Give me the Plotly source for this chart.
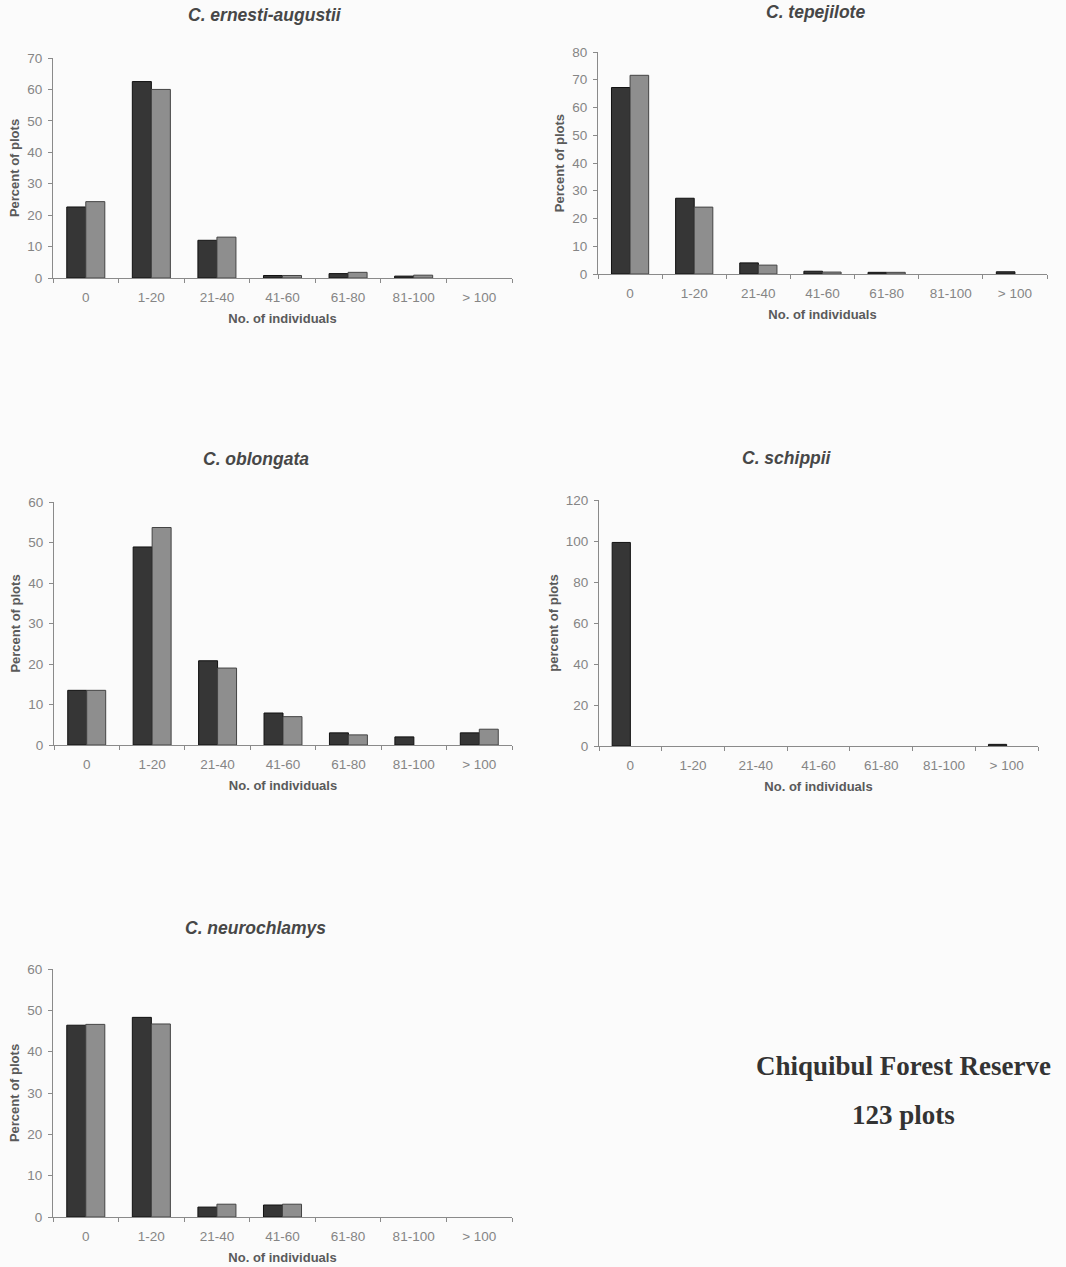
import plotly.graph_objects as go

W, H = 1066, 1267

categories = ["0", "1-20", "21-40", "41-60", "61-80", "81-100", "> 100"]

titles = ["C. ernesti-augustii", "C. tepejilote", "C. oblongata", "C. schippii", "C. neurochlamys"]
ylabels = ["Percent of plots", "Percent of plots", "Percent of plots", "percent of plots", "Percent of plots"]

ernesti_dark = [22.6, 62.5, 12.0, 0.8, 1.4, 0.6, 0]
ernesti_light = [24.3, 60.0, 13.0, 0.8, 1.8, 0.9, 0]
tepejilote_dark = [67.2, 27.3, 4.0, 1.0, 0.6, 0, 0.8]
tepejilote_light = [71.6, 24.1, 3.2, 0.7, 0.6, 0, 0]
oblongata_dark = [13.5, 48.9, 20.8, 7.9, 3.0, 2.0, 3.0]
oblongata_light = [13.5, 53.7, 19.0, 7.0, 2.5, 0, 3.9]
schippii_dark = [99.3, 0, 0, 0, 0, 0, 0.8]
schippii_light = [0, 0, 0, 0, 0, 0, 0]
neuro_dark = [46.4, 48.3, 2.4, 2.9, 0, 0, 0]
neuro_light = [46.6, 46.7, 3.1, 3.1, 0, 0, 0]

yranges = [70, 80, 60, 120, 60]
ydticks = [10, 10, 10, 20, 10]

series = [
    (ernesti_dark, ernesti_light),
    (tepejilote_dark, tepejilote_light),
    (oblongata_dark, oblongata_light),
    (schippii_dark, schippii_light),
    (neuro_dark, neuro_light),
]

# pixel boxes: (x_left, x_right, y_bottom, y_top)
boxes = [
    (53, 512, 278, 58),
    (598, 1047, 274, 52),
    (54, 512, 745, 502),
    (599, 1038, 746, 500),
    (53, 512, 1217, 969),
]
title_pos = [(265, 15), (815, 12), (256, 459), (787, 458), (255, 928)]

DARK = "#363636"
LIGHT = "#8e8e8e"
FONT = "Liberation Sans, Arial, sans-serif"


def nz(vals):
    return [v if v else None for v in vals]


fig = go.Figure()
layout = dict(
    width=W, height=H,
    margin=dict(l=0, r=0, t=0, b=0, autoexpand=False),
    paper_bgcolor="#fbfbfb",
    plot_bgcolor="rgba(0,0,0,0)",
    barmode="group",
    bargap=0.42,
    bargroupgap=0.0,
    showlegend=False,
    font=dict(family=FONT, size=13, color="#858585"),
)
annotations = []

for i, ((d, l), (xl, xr, yb, yt)) in enumerate(zip(series, boxes)):
    n = "" if i == 0 else str(i + 1)
    xa, ya = "x" + n, "y" + n
    fig.add_trace(go.Bar(x=categories, y=nz(d), xaxis=xa, yaxis=ya,
                         marker=dict(color=DARK, line=dict(color="#111111", width=1))))
    fig.add_trace(go.Bar(x=categories, y=nz(l), xaxis=xa, yaxis=ya,
                         marker=dict(color=LIGHT, line=dict(color="#444444", width=1))))
    layout["xaxis" + n] = dict(
        domain=[xl / W, xr / W], anchor=ya, type="category", automargin=False,
        showline=True, linecolor="#8a8a8a", linewidth=1,
        ticks="outside", ticklen=4, tickcolor="#8a8a8a", tickson="boundaries",
        showgrid=False, zeroline=False, ticklabelstandoff=7,
        tickfont=dict(size=13.5, color="#858585"),
        title=dict(text="<b>No. of individuals</b>", standoff=9,
                   font=dict(size=13, color="#5a5a5a")),
    )
    layout["yaxis" + n] = dict(
        domain=[1 - yb / H, 1 - yt / H], anchor=xa, automargin=False,
        range=[0, yranges[i]], dtick=ydticks[i],
        showline=True, linecolor="#8a8a8a", linewidth=1,
        ticks="outside", ticklen=4, tickcolor="#8a8a8a",
        showgrid=False, zeroline=False, ticklabelstandoff=3,
        tickfont=dict(size=13.5, color="#858585"),
        title=dict(text="<b>" + ylabels[i] + "</b>", standoff=4,
                   font=dict(size=13, color="#5a5a5a")),
    )
    tx, ty = title_pos[i]
    annotations.append(dict(
        x=tx / W, y=1 - ty / H, xref="paper", yref="paper",
        text="<b><i>" + titles[i] + "</i></b>", showarrow=False,
        xanchor="center", yanchor="middle",
        font=dict(family=FONT, size=17.5, color="#474747"),
    ))

SERIF = "Liberation Serif, Times New Roman, serif"
annotations.append(dict(x=903 / W, y=1 - 1066 / H, xref="paper", yref="paper",
                        text="<b>Chiquibul Forest Reserve</b>", showarrow=False,
                        xanchor="center", yanchor="middle",
                        font=dict(family=SERIF, size=27, color="#333333")))
annotations.append(dict(x=903 / W, y=1 - 1115 / H, xref="paper", yref="paper",
                        text="<b>123 plots</b>", showarrow=False,
                        xanchor="center", yanchor="middle",
                        font=dict(family=SERIF, size=27, color="#333333")))

layout["annotations"] = annotations
fig.update_layout(**layout)
fig.write_html("out.html", config={"displayModeBar": False},
               post_script="document.body.style.margin='0px';document.body.style.overflow='hidden';")
